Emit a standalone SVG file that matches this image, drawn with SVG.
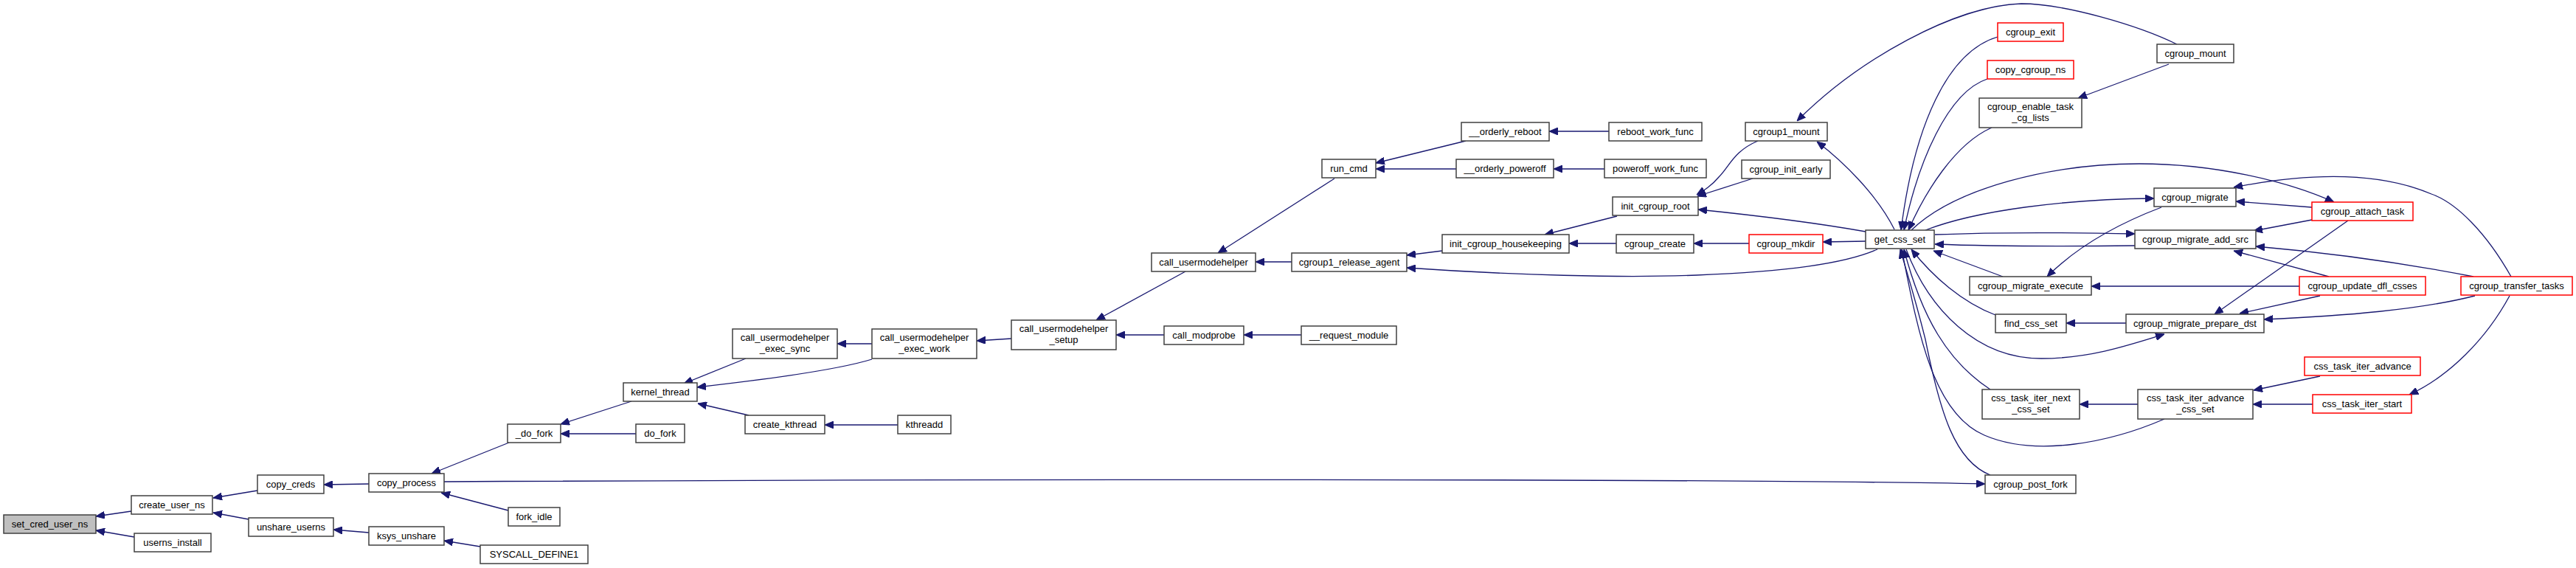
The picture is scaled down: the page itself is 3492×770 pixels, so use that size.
<svg xmlns="http://www.w3.org/2000/svg" width="3492" height="770" viewBox="0 0 3492 770">
<style>
.n rect{fill:#fff;stroke:#404040;stroke-width:1.5}
.n.r rect{stroke:#ff0000}
.n.g rect{fill:#bfbfbf}
text{font-family:"Liberation Sans",Arial,Helvetica,sans-serif;font-size:13px;text-anchor:middle;fill:#000}
#edges path{fill:none;stroke:#191970;stroke-width:1.3;marker-end:url(#ah)}
</style>
<defs>
<marker id="ah" viewBox="0 0 12 10" refX="12" refY="5" markerWidth="12" markerHeight="10" markerUnits="userSpaceOnUse" orient="auto"><path d="M0,0 L12,5 L0,10 z" fill="#191970" stroke="#191970" stroke-width="1"/></marker>
</defs>
<rect width="3492" height="770" fill="#fff"/>
<g id="edges">
<path d="M178,693 L130,700"/>
<path d="M182,728 L130,719"/>
<path d="M349,665 L289,675"/>
<path d="M337,704 L289,695"/>
<path d="M500,656 L439,657"/>
<path d="M500,722 L452,718"/>
<path d="M651,741 L602,733"/>
<path d="M690,600 L585,642"/>
<path d="M689,692 L598,668"/>
<path d="M602,653 C1200,650 2300,648 2691,656"/>
<path d="M856,544 L760,575"/>
<path d="M862,588 L760,588"/>
<path d="M1011,486 L927,520"/>
<path d="M1182,487 C1140,500 1060,512 945,525"/>
<path d="M1015,563 L946,547"/>
<path d="M1217,576 L1118,576"/>
<path d="M1182,466 L1135,466"/>
<path d="M1371,459 L1324,462"/>
<path d="M1607,368 L1486,434"/>
<path d="M1578,454 L1513,454"/>
<path d="M1764,454 L1686,454"/>
<path d="M1809,242 L1651,343"/>
<path d="M1751,355 L1702,355"/>
<path d="M1987,191 L1865,221"/>
<path d="M1974,229 L1865,229"/>
<path d="M2181,178 L2100,178"/>
<path d="M2175,229 L2106,229"/>
<path d="M1955,340 L1907,346"/>
<path d="M2545,338 C2500,358 2420,368 2300,373 C2200,377 2050,373 1907,363"/>
<path d="M2192,293 L2094,318"/>
<path d="M2191,330 L2127,330"/>
<path d="M2383,191 C2350,205 2345,225 2330,240 C2320,252 2310,258 2300,264"/>
<path d="M2376,242 L2301,266"/>
<path d="M2529,314 C2450,300 2380,292 2302,284"/>
<path d="M2371,330 L2296,330"/>
<path d="M2529,327 L2471,328"/>
<path d="M2568,311 C2545,265 2500,220 2463,192"/>
<path d="M2951,60 C2900,35 2800,5 2740,5 C2650,8 2520,80 2436,164"/>
<path d="M2708,50 C2640,70 2595,170 2577,312"/>
<path d="M2694,107 C2640,125 2600,220 2581,312"/>
<path d="M2700,173 C2650,195 2610,260 2587,312"/>
<path d="M2940,87 L2817,133"/>
<path d="M2591,312 C2650,255 2780,222 2900,222 C3000,222 3100,245 3164,274"/>
<path d="M2610,312 C2680,285 2800,270 2920,269"/>
<path d="M2623,318 C2700,315 2800,315 2894,317"/>
<path d="M2894,333 C2800,334 2700,334 2623,331"/>
<path d="M2715,375 L2621,340"/>
<path d="M2930,281 C2880,300 2820,330 2775,375"/>
<path d="M2705,427 C2660,410 2620,375 2591,338"/>
<path d="M2584,338 C2615,420 2680,486 2767,486 C2830,486 2880,470 2934,453"/>
<path d="M2698,528 C2640,490 2605,430 2581,338"/>
<path d="M2934,568 C2860,600 2760,620 2690,590 C2620,560 2600,450 2578,338"/>
<path d="M2698,644 C2650,625 2630,560 2610,460 C2595,400 2585,370 2576,338"/>
<path d="M3134,281 L3031,273"/>
<path d="M3134,298 L3055,313"/>
<path d="M3183,299 L3002,426"/>
<path d="M3404,375 C3370,315 3330,275 3296,263 C3230,235 3140,232 3028,254"/>
<path d="M3353,375 C3250,355 3150,342 3058,334"/>
<path d="M3157,375 L3028,340"/>
<path d="M3117,388 L2835,388"/>
<path d="M3145,401 L3036,425"/>
<path d="M3355,401 C3280,420 3180,428 3069,433"/>
<path d="M3402,401 C3370,460 3320,510 3266,535"/>
<path d="M3145,510 L3055,529"/>
<path d="M3135,548 L3054,548"/>
<path d="M2898,548 L2819,548"/>
<path d="M2882,438 L2801,438"/>
</g>
<g id="set_cred_user_ns" class="n g"><rect x="5" y="698" width="125" height="25"/><text x="67.5" y="715">set_cred_user_ns</text></g>
<g id="create_user_ns" class="n"><rect x="178" y="672" width="110" height="25"/><text x="233" y="689">create_user_ns</text></g>
<g id="userns_install" class="n"><rect x="182" y="723" width="104" height="25"/><text x="234" y="740">userns_install</text></g>
<g id="copy_creds" class="n"><rect x="349" y="644" width="90" height="25"/><text x="394" y="661">copy_creds</text></g>
<g id="unshare_userns" class="n"><rect x="337" y="702" width="115" height="25"/><text x="394.5" y="719">unshare_userns</text></g>
<g id="copy_process" class="n"><rect x="500" y="642" width="102" height="25"/><text x="551" y="659">copy_process</text></g>
<g id="ksys_unshare" class="n"><rect x="500" y="714" width="102" height="25"/><text x="551" y="731">ksys_unshare</text></g>
<g id="_do_fork" class="n"><rect x="688" y="575" width="72" height="25"/><text x="724" y="592">_do_fork</text></g>
<g id="fork_idle" class="n"><rect x="689" y="688" width="70" height="25"/><text x="724" y="705">fork_idle</text></g>
<g id="SYSCALL_DEFINE1" class="n"><rect x="651" y="739" width="146" height="25"/><text x="724" y="756">SYSCALL_DEFINE1</text></g>
<g id="kernel_thread" class="n"><rect x="845" y="519" width="100" height="25"/><text x="895" y="536">kernel_thread</text></g>
<g id="do_fork" class="n"><rect x="862" y="575" width="66" height="25"/><text x="895" y="592">do_fork</text></g>
<g id="call_usermodehelper_exec_sync" class="n"><rect x="993" y="446" width="142" height="40"/><text x="1064" y="462">call_usermodehelper</text><text x="1064" y="477">_exec_sync</text></g>
<g id="create_kthread" class="n"><rect x="1010" y="563" width="108" height="25"/><text x="1064" y="580">create_kthread</text></g>
<g id="kthreadd" class="n"><rect x="1217" y="563" width="72" height="25"/><text x="1253" y="580">kthreadd</text></g>
<g id="call_usermodehelper_exec_work" class="n"><rect x="1182" y="446" width="142" height="40"/><text x="1253" y="462">call_usermodehelper</text><text x="1253" y="477">_exec_work</text></g>
<g id="call_usermodehelper_setup" class="n"><rect x="1371" y="434" width="142" height="40"/><text x="1442" y="450">call_usermodehelper</text><text x="1442" y="465">_setup</text></g>
<g id="call_usermodehelper" class="n"><rect x="1561" y="343" width="141" height="25"/><text x="1631.5" y="360">call_usermodehelper</text></g>
<g id="call_modprobe" class="n"><rect x="1578" y="442" width="108" height="25"/><text x="1632" y="459">call_modprobe</text></g>
<g id="run_cmd" class="n"><rect x="1792" y="216" width="73" height="25"/><text x="1828.5" y="233">run_cmd</text></g>
<g id="cgroup1_release_agent" class="n"><rect x="1751" y="343" width="156" height="25"/><text x="1829" y="360">cgroup1_release_agent</text></g>
<g id="__request_module" class="n"><rect x="1764" y="442" width="129" height="25"/><text x="1828.5" y="459">__request_module</text></g>
<g id="__orderly_reboot" class="n"><rect x="1981" y="166" width="119" height="25"/><text x="2040.5" y="183">__orderly_reboot</text></g>
<g id="__orderly_poweroff" class="n"><rect x="1974" y="216" width="132" height="25"/><text x="2040" y="233">__orderly_poweroff</text></g>
<g id="reboot_work_func" class="n"><rect x="2181" y="166" width="126" height="25"/><text x="2244" y="183">reboot_work_func</text></g>
<g id="poweroff_work_func" class="n"><rect x="2175" y="216" width="138" height="25"/><text x="2244" y="233">poweroff_work_func</text></g>
<g id="init_cgroup_housekeeping" class="n"><rect x="1955" y="318" width="172" height="25"/><text x="2041" y="335">init_cgroup_housekeeping</text></g>
<g id="init_cgroup_root" class="n"><rect x="2186" y="267" width="116" height="25"/><text x="2244" y="284">init_cgroup_root</text></g>
<g id="cgroup_create" class="n"><rect x="2191" y="318" width="105" height="25"/><text x="2243.5" y="335">cgroup_create</text></g>
<g id="cgroup1_mount" class="n"><rect x="2366" y="166" width="111" height="25"/><text x="2421.5" y="183">cgroup1_mount</text></g>
<g id="cgroup_init_early" class="n"><rect x="2361" y="217" width="120" height="25"/><text x="2421" y="234">cgroup_init_early</text></g>
<g id="cgroup_mkdir" class="n r"><rect x="2371" y="318" width="100" height="25"/><text x="2421" y="335">cgroup_mkdir</text></g>
<g id="get_css_set" class="n"><rect x="2529" y="312" width="93" height="25"/><text x="2575.5" y="329">get_css_set</text></g>
<g id="cgroup_exit" class="n r"><rect x="2708" y="31" width="89" height="25"/><text x="2752.5" y="48">cgroup_exit</text></g>
<g id="copy_cgroup_ns" class="n r"><rect x="2694" y="82" width="117" height="25"/><text x="2752.5" y="99">copy_cgroup_ns</text></g>
<g id="cgroup_enable_task_cg_lists" class="n"><rect x="2683" y="133" width="139" height="40"/><text x="2752.5" y="149">cgroup_enable_task</text><text x="2752.5" y="164">_cg_lists</text></g>
<g id="cgroup_migrate_execute" class="n"><rect x="2670" y="375" width="165" height="25"/><text x="2752.5" y="392">cgroup_migrate_execute</text></g>
<g id="find_css_set" class="n"><rect x="2705" y="426" width="96" height="25"/><text x="2753" y="443">find_css_set</text></g>
<g id="css_task_iter_next_css_set" class="n"><rect x="2687" y="528" width="132" height="40"/><text x="2753" y="544">css_task_iter_next</text><text x="2753" y="559">_css_set</text></g>
<g id="cgroup_post_fork" class="n"><rect x="2691" y="644" width="123" height="25"/><text x="2752.5" y="661">cgroup_post_fork</text></g>
<g id="cgroup_mount" class="n"><rect x="2924" y="60" width="104" height="25"/><text x="2976" y="77">cgroup_mount</text></g>
<g id="cgroup_migrate" class="n"><rect x="2920" y="255" width="111" height="25"/><text x="2975.5" y="272">cgroup_migrate</text></g>
<g id="cgroup_migrate_add_src" class="n"><rect x="2894" y="312" width="164" height="25"/><text x="2976" y="329">cgroup_migrate_add_src</text></g>
<g id="cgroup_migrate_prepare_dst" class="n"><rect x="2882" y="426" width="187" height="25"/><text x="2975.5" y="443">cgroup_migrate_prepare_dst</text></g>
<g id="css_task_iter_advance_css_set" class="n"><rect x="2898" y="528" width="156" height="40"/><text x="2976" y="544">css_task_iter_advance</text><text x="2976" y="559">_css_set</text></g>
<g id="cgroup_attach_task" class="n r"><rect x="3134" y="274" width="137" height="25"/><text x="3202.5" y="291">cgroup_attach_task</text></g>
<g id="cgroup_update_dfl_csses" class="n r"><rect x="3117" y="375" width="171" height="25"/><text x="3202.5" y="392">cgroup_update_dfl_csses</text></g>
<g id="cgroup_transfer_tasks" class="n r"><rect x="3336" y="375" width="151" height="25"/><text x="3411.5" y="392">cgroup_transfer_tasks</text></g>
<g id="css_task_iter_advance" class="n r"><rect x="3124" y="484" width="157" height="25"/><text x="3202.5" y="501">css_task_iter_advance</text></g>
<g id="css_task_iter_start" class="n r"><rect x="3135" y="535" width="134" height="25"/><text x="3202" y="552">css_task_iter_start</text></g>
</svg>
